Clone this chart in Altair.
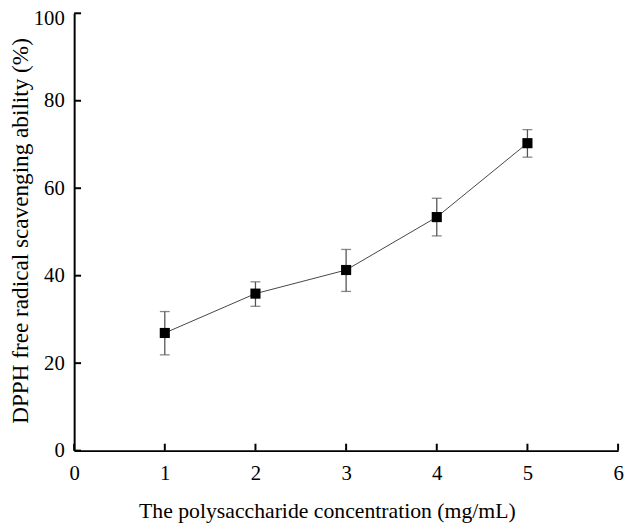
import altair as alt
import pandas as pd

conc = [1, 2, 3, 4, 5]
ability = [26.9, 35.9, 41.3, 53.4, 70.3]
err_low = [21.9, 33.0, 36.4, 49.1, 67.1]
err_high = [31.8, 38.6, 46.0, 57.7, 73.4]

x_ticks = [0, 1, 2, 3, 4, 5, 6]
y_ticks = [0, 20, 40, 60, 80, 100]

df = pd.DataFrame({"x": conc, "y": ability, "lo": err_low, "hi": err_high})
xt = pd.DataFrame({"t": x_ticks})
yt = pd.DataFrame({"t": y_ticks})

W, H = 551, 443
FONT = "Liberation Serif"

xscale = alt.Scale(domain=[0, 6], nice=False)
yscale = alt.Scale(domain=[0, 100], nice=False)

xaxis = alt.Axis(values=x_ticks, format="d", grid=False, ticks=False, domainColor="black",
                 domainWidth=2, labelFont=FONT, labelFontSize=21, labelColor="black",
                 labelPadding=12, titleFont=FONT, titleFontSize=22, titleFontWeight="normal",
                 titleColor="black", titleX=256, titleY=68, titleBaseline="alphabetic",
                 titleAlign="center", labelFlush=False)
yaxis = alt.Axis(values=y_ticks, format="d", grid=False, ticks=False, domainColor="black",
                 domainWidth=2, labelFont=FONT, labelFontSize=21, labelColor="black",
                 labelPadding=10, titleFont=FONT, titleFontSize=23.5, titleFontWeight="normal",
                 titleColor="black", titleX=-47, titleY=220, titleAngle=-90,
                 titleBaseline="alphabetic", titleAlign="center", labelFlush=False,
                 labelOffset={"condition": {"test": "datum.value == 100", "value": 5}, "value": 0})

base = alt.Chart(df)

line = base.mark_line(color="#444444", strokeWidth=1).encode(
    x=alt.X("x:Q", scale=xscale, axis=xaxis, title="The polysaccharide concentration (mg/mL)"),
    y=alt.Y("y:Q", scale=yscale, axis=yaxis, title="DPPH free radical scavenging ability (%)"),
)

bars = base.mark_rule(color="#555555", strokeWidth=1.3).encode(
    x="x:Q", y="lo:Q", y2="hi:Q"
)
cap_hi = base.mark_tick(color="#555555", orient="horizontal", size=10, thickness=1.3).encode(
    x="x:Q", y="hi:Q"
)
cap_lo = base.mark_tick(color="#555555", orient="horizontal", size=10, thickness=1.3).encode(
    x="x:Q", y="lo:Q"
)

pts = base.mark_point(shape="square", filled=True, color="black", size=105, opacity=1).encode(
    x="x:Q", y="y:Q"
)

xtick_marks = alt.Chart(xt).mark_rule(color="black", strokeWidth=2).encode(
    x=alt.X("t:Q", scale=xscale), y=alt.value(H), y2=alt.value(H - 7)
)
ytick_marks = alt.Chart(yt).mark_rule(color="black", strokeWidth=2).encode(
    y=alt.Y("t:Q", scale=yscale), x=alt.value(0), x2=alt.value(7)
)

chart = alt.layer(line, bars, cap_hi, cap_lo, pts, xtick_marks, ytick_marks).properties(
    width=W, height=H,
    autosize=alt.AutoSizeParams(type="none"),
    padding={"left": 67, "top": 2, "right": 7, "bottom": 73},
    background="white",
).configure_view(stroke=None)

chart.save("out.html", embed_options={"renderer": "svg", "actions": False})
